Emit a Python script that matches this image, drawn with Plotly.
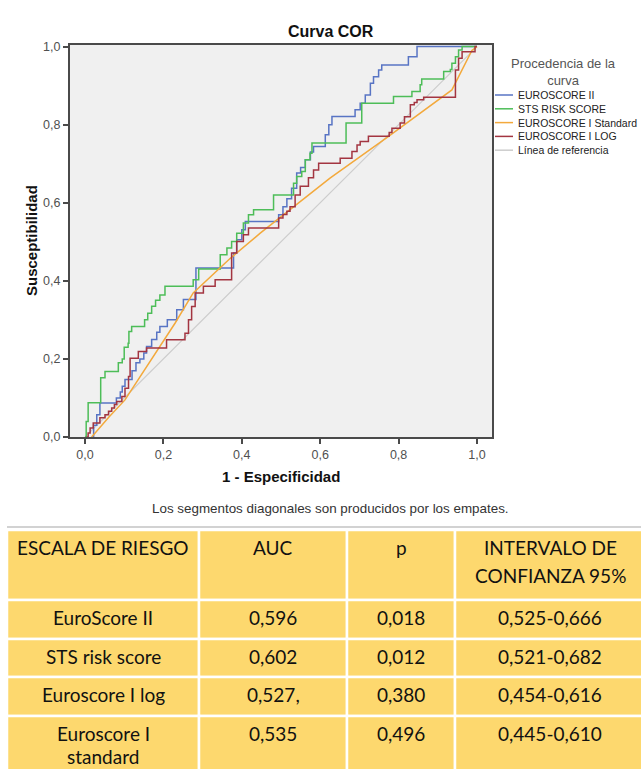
import plotly.graph_objects as go

# ROC curve vertices: (1 - specificity, sensitivity)
euroscore2_roc = [
    (0.017, 0.000), (0.022, 0.030), (0.030, 0.057), (0.038, 0.087), (0.080, 0.100),
    (0.090, 0.115), (0.095, 0.130), (0.102, 0.147), (0.120, 0.170), (0.130, 0.190),
    (0.140, 0.200), (0.150, 0.215), (0.157, 0.232), (0.170, 0.250), (0.183, 0.268),
    (0.191, 0.283), (0.210, 0.300), (0.234, 0.326), (0.251, 0.352), (0.283, 0.433),
    (0.379, 0.471), (0.387, 0.505), (0.400, 0.531), (0.409, 0.552), (0.494, 0.569),
    (0.505, 0.590), (0.515, 0.610), (0.527, 0.637), (0.540, 0.676), (0.550, 0.690),
    (0.562, 0.710), (0.575, 0.730), (0.583, 0.744), (0.613, 0.774), (0.622, 0.800),
    (0.630, 0.821), (0.689, 0.838), (0.702, 0.855), (0.715, 0.876), (0.728, 0.906),
    (0.736, 0.923), (0.749, 0.940), (0.757, 0.953), (0.825, 0.974), (0.847, 1.000),
    (1.000, 1.000),
]
sts_roc = [
    (0.000, 0.000), (0.003, 0.040), (0.008, 0.088), (0.040, 0.152), (0.051, 0.168),
    (0.085, 0.190), (0.095, 0.200), (0.100, 0.230), (0.110, 0.240), (0.112, 0.270),
    (0.119, 0.283), (0.152, 0.300), (0.160, 0.317), (0.170, 0.335), (0.180, 0.350),
    (0.191, 0.364), (0.204, 0.386), (0.276, 0.403), (0.290, 0.430), (0.345, 0.467),
    (0.362, 0.484), (0.374, 0.501), (0.387, 0.522), (0.404, 0.548), (0.417, 0.569),
    (0.430, 0.582), (0.481, 0.620), (0.532, 0.650), (0.540, 0.667), (0.553, 0.680),
    (0.562, 0.710), (0.574, 0.727), (0.579, 0.753), (0.666, 0.804), (0.706, 0.855),
    (0.787, 0.872), (0.834, 0.885), (0.855, 0.902), (0.859, 0.917), (0.915, 0.936),
    (0.932, 0.941), (0.936, 0.957), (0.945, 0.974), (0.953, 0.991), (0.962, 1.000),
    (1.000, 1.000),
]
euroscore1_std_roc = [
    (0.017, 0.000), (0.060, 0.050), (0.102, 0.095), (0.166, 0.194), (0.230, 0.292),
    (0.276, 0.369), (0.336, 0.425), (0.370, 0.457), (0.447, 0.522), (0.625, 0.663),
    (0.770, 0.767), (0.936, 0.889), (0.987, 0.990), (1.000, 1.000),
]
euroscore1_log_roc = [
    (0.004, 0.000), (0.008, 0.010), (0.013, 0.023), (0.021, 0.036), (0.038, 0.049),
    (0.051, 0.057), (0.060, 0.066), (0.068, 0.074), (0.075, 0.083), (0.081, 0.091),
    (0.094, 0.104), (0.102, 0.125), (0.111, 0.155), (0.115, 0.202), (0.136, 0.219),
    (0.157, 0.228), (0.208, 0.249), (0.255, 0.266), (0.264, 0.300), (0.272, 0.334),
    (0.281, 0.369), (0.302, 0.386), (0.332, 0.403), (0.374, 0.471), (0.387, 0.501),
    (0.404, 0.518), (0.417, 0.535), (0.494, 0.561), (0.505, 0.570), (0.515, 0.578),
    (0.523, 0.590), (0.536, 0.620), (0.549, 0.642), (0.570, 0.664), (0.583, 0.684),
    (0.596, 0.701), (0.651, 0.714), (0.681, 0.731), (0.694, 0.748), (0.702, 0.757),
    (0.723, 0.770), (0.776, 0.780), (0.783, 0.791), (0.804, 0.804), (0.815, 0.820),
    (0.830, 0.851), (0.840, 0.857), (0.847, 0.864), (0.864, 0.870), (0.945, 0.940),
    (0.953, 0.970), (0.962, 0.987), (0.995, 1.000), (1.000, 1.000),
]
reference_line = [(0.0, 0.0), (1.0, 1.0)]

series_names = ["EUROSCORE II", "STS RISK SCORE", "EUROSCORE I Standard",
                "EUROSCORE I LOG", "Línea de referencia"]
series_colors = ["#5874c4", "#4dbd58", "#f3a93c", "#a33541", "#cdcdcd"]

x_ticks = [0.0, 0.2, 0.4, 0.6, 0.8, 1.0]
x_tick_labels = ["0,0", "0,2", "0,4", "0,6", "0,8", "1,0"]
y_ticks = [0.0, 0.2, 0.4, 0.6, 0.8, 1.0]
y_tick_labels = ["0,0", "0,2", "0,4", "0,6", "0,8", "1,0"]

table_header = ["ESCALA DE RIESGO", "AUC", "p", "INTERVALO DE<br>CONFIANZA 95%"]
risk_scales = ["EuroScore II", "STS risk score", "Euroscore I log", "Euroscore I<br>standard"]
auc_values = ["0,596", "0,602", "0,527,", "0,535"]
p_values = ["0,018", "0,012", "0,380", "0,496"]
ci_95 = ["0,525-0,666", "0,521-0,682", "0,454-0,616", "0,445-0,610"]

# ---- page geometry (pixels) ----
W, H = 641, 769
ML, MR, MT, MB = 70, 149, 45, 332
PW, PH = W - ML - MR, H - MT - MB
PLOT_BOTTOM = H - MB


def px(x):
    return (x - ML) / PW


def py(y):
    return (PLOT_BOTTOM - y) / PH


CHART_FONT = "Liberation Sans, Arial, sans-serif"
TABLE_FONT = "Lato, Calibri, sans-serif"

fig = go.Figure()

curves = [reference_line, euroscore2_roc, sts_roc, euroscore1_std_roc, euroscore1_log_roc]
curve_idx = [4, 0, 1, 2, 3]
for pts, i in zip(curves, curve_idx):
    xs = [p[0] for p in pts]
    ys = [p[1] for p in pts]
    shape = "linear" if i in (2, 4) else "hv"
    fig.add_trace(go.Scatter(
        x=xs, y=ys, mode="lines", name=series_names[i],
        line=dict(color=series_colors[i], width=1.5 if i != 4 else 1.2, shape=shape),
        showlegend=False, hoverinfo="skip",
    ))

shapes = []
annotations = []

# title and axis titles
annotations.append(dict(text="<b>Curva COR</b>", x=px(331), y=py(32), xref="paper", yref="paper",
                        showarrow=False, xanchor="center", yanchor="middle",
                        font=dict(family=CHART_FONT, size=16, color="#111")))
annotations.append(dict(text="<b>1 - Especificidad</b>", x=px(281), y=py(476), xref="paper", yref="paper",
                        showarrow=False, xanchor="center", yanchor="middle",
                        font=dict(family=CHART_FONT, size=15, color="#111")))
annotations.append(dict(text="<b>Susceptibilidad</b>", x=px(31), y=py(241), xref="paper", yref="paper",
                        showarrow=False, xanchor="center", yanchor="middle", textangle=-90,
                        font=dict(family=CHART_FONT, size=15, color="#111")))
annotations.append(dict(text="Los segmentos diagonales son producidos por los empates.",
                        x=px(330), y=py(508), xref="paper", yref="paper",
                        showarrow=False, xanchor="center", yanchor="middle",
                        font=dict(family=CHART_FONT, size=13.4, color="#333")))

# legend
annotations.append(dict(text="Procedencia de la<br>curva", x=px(563), y=py(54), xref="paper", yref="paper",
                        showarrow=False, xanchor="center", yanchor="top", align="center",
                        font=dict(family=CHART_FONT, size=13, color="#555")))
for k, (name, color) in enumerate(zip(series_names, series_colors)):
    yk = 95 + k * 13.8
    shapes.append(dict(type="line", xref="paper", yref="paper", x0=px(495), x1=px(513),
                       y0=py(yk), y1=py(yk), line=dict(color=color, width=1.5)))
    annotations.append(dict(text=name, x=px(516), y=py(yk), xref="paper", yref="paper",
                            showarrow=False, xanchor="left", yanchor="middle",
                            font=dict(family=CHART_FONT, size=10.5, color="#222")))

# results table
col_edges = [7, 199, 347, 455, 645]
row_edges = [530, 600, 639, 677, 716, 775]
shapes.append(dict(type="line", xref="paper", yref="paper", x0=px(7), x1=px(645),
                   y0=py(527), y1=py(527), line=dict(color="#d2d2d2", width=2)))
rows = [table_header] + [list(r) for r in zip(risk_scales, auc_values, p_values, ci_95)]
for r, row in enumerate(rows):
    top, bottom = row_edges[r], row_edges[r + 1]
    line_gap = 28 if r == 0 else 23
    for c, text in enumerate(row):
        left, right = col_edges[c], col_edges[c + 1]
        shapes.append(dict(type="rect", xref="paper", yref="paper",
                           x0=px(left), x1=px(right), y0=py(bottom), y1=py(top),
                           fillcolor="#fdd86e", line=dict(color="white", width=2.5), layer="above"))
        for j, line in enumerate(text.split("<br>")):
            annotations.append(dict(text=line, x=px((left + right) / 2), y=py(top + 17 + line_gap * j),
                                    xref="paper", yref="paper", showarrow=False,
                                    xanchor="center", yanchor="middle",
                                    font=dict(family=TABLE_FONT, size=19, color="#111")))

axis_common = dict(showgrid=False, zeroline=False, showline=True, mirror=True,
                   linecolor="#4a4a4a", linewidth=2, ticks="outside", ticklen=5,
                   tickwidth=1.5, tickcolor="#4a4a4a",
                   tickfont=dict(family=CHART_FONT, size=12.5, color="#505050"))

fig.update_layout(
    width=W, height=H,
    margin=dict(l=ML, r=MR, t=MT, b=MB, pad=0),
    paper_bgcolor="white", plot_bgcolor="#f0f0f0",
    xaxis=dict(range=[-0.0383, 1.0383], tickvals=x_ticks, ticktext=x_tick_labels, **axis_common),
    yaxis=dict(range=[0.0, 1.004], tickvals=y_ticks, ticktext=y_tick_labels, **axis_common),
    shapes=shapes, annotations=annotations,
    showlegend=False,
)

fig.write_html("out.html")
